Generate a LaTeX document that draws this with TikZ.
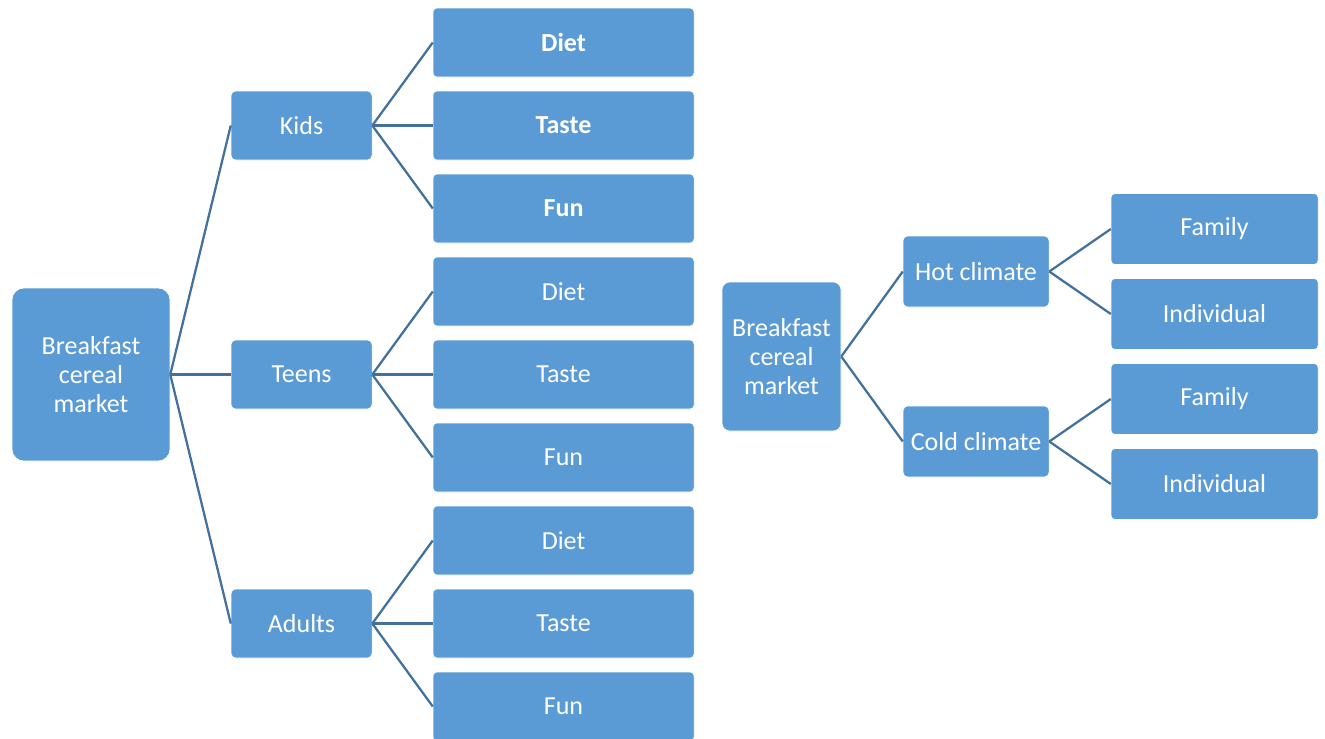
\documentclass[tikz,border=0pt]{standalone}
\usepackage{fontspec}
\setmainfont{Carlito}
\usetikzlibrary{trees,positioning}
\definecolor{boxblue}{RGB}{91,155,213}
\definecolor{linkblue}{RGB}{65,113,156}
\tikzstyle{box} = [rectangle, fill=boxblue, draw=white, line width=0.4pt, text=white, inner sep=0pt, align=center, font=\fontsize{19.5}{22}\selectfont]
\tikzstyle{l1} = [box, minimum width=118.5pt, minimum height=129.75pt, rounded corners=9pt]
\tikzstyle{l2} = [box, minimum width=105.75pt, minimum height=51.75pt, rounded corners=3.5pt]
\tikzstyle{l3} = [box, minimum width=195.75pt, minimum height=51.75pt, rounded corners=3pt]
\tikzstyle{r1} = [box, minimum width=89.25pt, minimum height=111.75pt, rounded corners=6pt]
\tikzstyle{r2} = [box, minimum width=109.5pt, minimum height=53.25pt, rounded corners=3.5pt]
\tikzstyle{r3} = [box, minimum width=155.25pt, minimum height=53.25pt, rounded corners=3pt]

\begin{document}
\begin{tikzpicture}[x=0.75pt, y=-0.75pt, grow'=right,
    edge from parent/.style={draw=linkblue, line width=1.7pt},
    edge from parent path={(\tikzparentnode.east) -- (\tikzchildnode.west)}]
\useasboundingbox (0,0) rectangle (1325,739);
% segments by age
\node(M)[l1] at (91,374.5) {Breakfast\\cereal\\market}
    [level 1/.style={level distance=157.9pt, sibling distance=186.75pt},
     level 2/.style={level distance=196.5pt, sibling distance=62.25pt}]
    child {
        node(K)[l2] {Kids}
            child {node(KD)[l3] {\textbf{Diet}}}
            child {node(KT)[l3] {\textbf{Taste}}}
            child {node(KF)[l3] {\textbf{Fun}}}
    }
    child {
        node(T)[l2] {Teens}
            child {node(TD)[l3] {Diet}}
            child {node(TT)[l3] {Taste}}
            child {node(TF)[l3] {Fun}}
    }
    child {
        node(A)[l2] {Adults}
            child {node(AD)[l3] {Diet}}
            child {node(AT)[l3] {Taste}}
            child {node(AF)[l3] {Fun}}
    };
% segments by climate
\node(N)[r1] at (781.5,356.5) {Breakfast\\cereal\\market}
    [level 1/.style={level distance=145.9pt, sibling distance=127.5pt},
     level 2/.style={level distance=178.9pt, sibling distance=63.75pt}]
    child {
        node(H)[r2] {Hot climate}
            child {node(HF)[r3] {Family}}
            child {node(HI)[r3] {Individual}}
    }
    child {
        node(C)[r2] {Cold climate}
            child {node(CF)[r3] {Family}}
            child {node(CI)[r3] {Individual}}
    };
\end{tikzpicture}
\end{document}
